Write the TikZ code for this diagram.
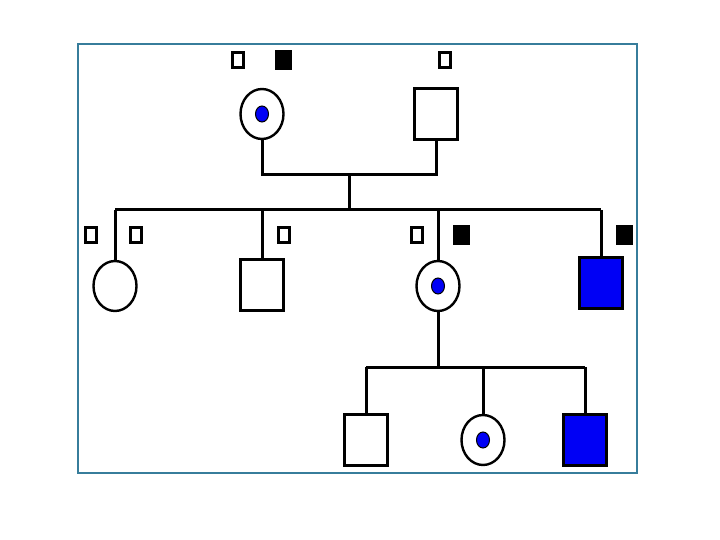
\documentclass[tikz,border=0pt]{standalone}
\usetikzlibrary{shapes.geometric}
\definecolor{framec}{RGB}{55,125,155}
\definecolor{aff}{RGB}{0,0,245}
\begin{document}
\begin{tikzpicture}[x=1pt,y=-1pt,line width=3pt,
  female/.style={ellipse,draw,line width=2.4pt,minimum width=43pt,minimum height=50pt,inner sep=0pt,fill=white},
  male/.style={rectangle,draw,line width=3pt,minimum width=43pt,minimum height=51pt,inner sep=0pt,fill=white},
  affmale/.style={male,fill=aff},
  carrierdot/.style={ellipse,draw,line width=1pt,fill=aff,minimum width=13pt,minimum height=16pt,inner sep=0pt},
  allele/.style={rectangle,draw,line width=2.6pt,minimum width=11pt,minimum height=15pt,inner sep=0pt,fill=white},
  allelefill/.style={allele,fill=black,line width=2pt,minimum width=15pt,minimum height=18pt},
  link/.style={line width=3pt}]
\useasboundingbox (0,0) rectangle (720,540);
\draw[framec,line width=1.6pt] (78,44) rectangle (637,473);
% generation I
\node[female] (gm) at (262,114) {};
\node[carrierdot] (gmdot) at (gm.center) {};
\node[male] (gf) at (436,114) {};
\node[allele] (a1) at (238,60) {};
\node[allelefill] (a2) at (283,60) {};
\node[allele] (a3) at (445,60) {};
\coordinate (cm) at (349,175);
\coordinate (sib1) at (349,210);
\draw[link] (gm.south) -- (gm.south |- cm) -- (gf.south |- cm) -- (gf.south);
\draw[link] (cm) -- (sib1);
% generation II
\node[female] (c1) at (115,286) {};
\node[male] (c2) at (262,285) {};
\node[female] (c3) at (438,286) {};
\node[carrierdot] (c3dot) at (c3.center) {};
\node[affmale] (c4) at (601,283) {};
\node[allele] (b1) at (91,235) {};
\node[allele] (b2) at (136,235) {};
\node[allele] (b3) at (284,235) {};
\node[allele] (b4) at (417,235) {};
\node[allelefill] (b5) at (461,235) {};
\node[allelefill] (b6) at (624,235) {};
\draw[link] (c1.north |- sib1) -- (c4.north |- sib1);
\draw[link] (c1.north |- sib1) -- (c1.north);
\draw[link] (c2.north |- sib1) -- (c2.north);
\draw[link] (c3.north |- sib1) -- (c3.north);
\draw[link] (c4.north |- sib1) -- (c4.north);
% generation III
\coordinate (sib2) at (438,367);
\draw[link] (c3.south) -- (sib2);
\node[male] (d1) at (366,440) {};
\node[female] (d2) at (483,440) {};
\node[carrierdot] (d2dot) at (d2.center) {};
\node[affmale] (d3) at (585,440) {};
\draw[link] (d1.north |- sib2) -- (d3.north |- sib2);
\draw[link] (d1.north |- sib2) -- (d1.north);
\draw[link] (d2.north |- sib2) -- (d2.north);
\draw[link] (d3.north |- sib2) -- (d3.north);
\end{tikzpicture}
\end{document}
